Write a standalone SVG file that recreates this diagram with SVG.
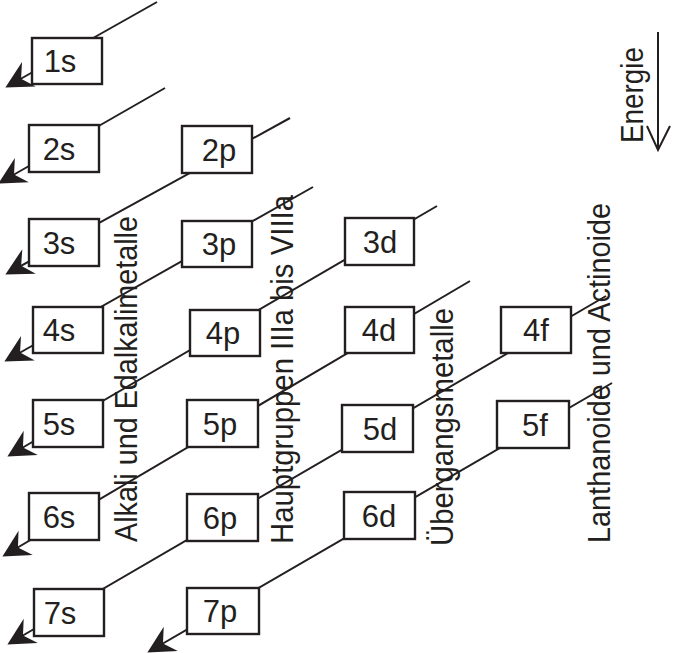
<svg xmlns="http://www.w3.org/2000/svg" width="674" height="653" viewBox="0 0 674 653">
<defs>
<style>
.box{fill:#fff;stroke:#231f20;stroke-width:2.4}
.lbl{font-family:"Liberation Sans",Arial,sans-serif;font-size:31px;fill:#231f20;text-anchor:middle}
.rot{font-family:"Liberation Sans",Arial,sans-serif;font-size:31px;fill:#231f20}
.con{fill:none;stroke:#231f20;stroke-width:2}
</style>
<marker id="ah" markerUnits="userSpaceOnUse" markerWidth="40" markerHeight="40" refX="0" refY="0" orient="auto" overflow="visible">
<path d="M3,0 L-24,-14 L-15,0 L-24,14 Z" fill="#231f20"/>
</marker>
</defs>
<rect width="674" height="653" fill="#fff"/>
<g id="connectors">
<line class="con" x1="157" y1="2" x2="8" y2="86" marker-end="url(#ah)"/>
<line class="con" x1="165" y1="88" x2="1" y2="182" marker-end="url(#ah)"/>
<line class="con" x1="290" y1="118" x2="8" y2="273" marker-end="url(#ah)"/>
<line class="con" x1="313" y1="187" x2="7" y2="360" marker-end="url(#ah)"/>
<line class="con" x1="437" y1="206" x2="10" y2="455" marker-end="url(#ah)"/>
<line class="con" x1="470" y1="281" x2="5" y2="555" marker-end="url(#ah)"/>
<line class="con" x1="606" y1="296" x2="10" y2="643" marker-end="url(#ah)"/>
<line class="con" x1="612" y1="383" x2="150" y2="651" marker-end="url(#ah)"/>
<path class="con" d="M658,32 V150 M647,126 L658,150 L670,126" stroke-width="1.6"/>
</g>
<g id="n1s"><rect class="box" x="32" y="38" width="70" height="46"/><text class="lbl" x="60" y="72">1s</text></g>
<g id="n2s"><rect class="box" x="29" y="125" width="70" height="47"/><text class="lbl" x="59" y="160">2s</text></g>
<g id="n3s"><rect class="box" x="29" y="219" width="70" height="47"/><text class="lbl" x="59" y="254">3s</text></g>
<g id="n4s"><rect class="box" x="33" y="307" width="70" height="46"/><text class="lbl" x="59" y="341">4s</text></g>
<g id="n5s"><rect class="box" x="33" y="400" width="70" height="47"/><text class="lbl" x="59" y="435">5s</text></g>
<g id="n6s"><rect class="box" x="29" y="493" width="70" height="47"/><text class="lbl" x="59" y="528">6s</text></g>
<g id="n7s"><rect class="box" x="34" y="589" width="70" height="47"/><text class="lbl" x="60" y="624">7s</text></g>
<g id="n2p"><rect class="box" x="182" y="126" width="70" height="47"/><text class="lbl" x="219" y="161">2p</text></g>
<g id="n3p"><rect class="box" x="182" y="221" width="70" height="46"/><text class="lbl" x="219" y="255">3p</text></g>
<g id="n4p"><rect class="box" x="190" y="310" width="70" height="46"/><text class="lbl" x="223" y="344">4p</text></g>
<g id="n5p"><rect class="box" x="187" y="400" width="71" height="47"/><text class="lbl" x="220" y="435">5p</text></g>
<g id="n6p"><rect class="box" x="187" y="494" width="71" height="47"/><text class="lbl" x="220" y="529">6p</text></g>
<g id="n7p"><rect class="box" x="187" y="588" width="72" height="46"/><text class="lbl" x="220" y="622">7p</text></g>
<g id="n3d"><rect class="box" x="345" y="218" width="69" height="47"/><text class="lbl" x="380" y="253">3d</text></g>
<g id="n4d"><rect class="box" x="345" y="307" width="69" height="46"/><text class="lbl" x="379" y="341">4d</text></g>
<g id="n5d"><rect class="box" x="342" y="405" width="71" height="47"/><text class="lbl" x="380" y="440">5d</text></g>
<g id="n6d"><rect class="box" x="344" y="492" width="71" height="47"/><text class="lbl" x="379" y="527">6d</text></g>
<g id="n4f"><rect class="box" x="501" y="307" width="70" height="46"/><text class="lbl" x="536" y="341">4f</text></g>
<g id="n5f"><rect class="box" x="497" y="401" width="72" height="47"/><text class="lbl" x="535" y="436">5f</text></g>
<g id="labels">
<text id="t1" class="rot" transform="translate(137,542) rotate(-90)" textLength="326" lengthAdjust="spacingAndGlyphs">Alkali und Edalkalimetalle</text>
<text id="t2" class="rot" transform="translate(293,544) rotate(-90)" textLength="349" lengthAdjust="spacingAndGlyphs">Hauptgruppen IIIa bis VIIIa</text>
<text id="t3" class="rot" transform="translate(453,546) rotate(-90)" textLength="238" lengthAdjust="spacingAndGlyphs">Übergangsmetalle</text>
<text id="t4" class="rot" transform="translate(610,543) rotate(-90)" textLength="340" lengthAdjust="spacingAndGlyphs">Lanthanoide und Actinoide</text>
<text id="t5" class="rot" transform="translate(643,143) rotate(-90)" textLength="96" lengthAdjust="spacingAndGlyphs">Energie</text>
</g>
</svg>
